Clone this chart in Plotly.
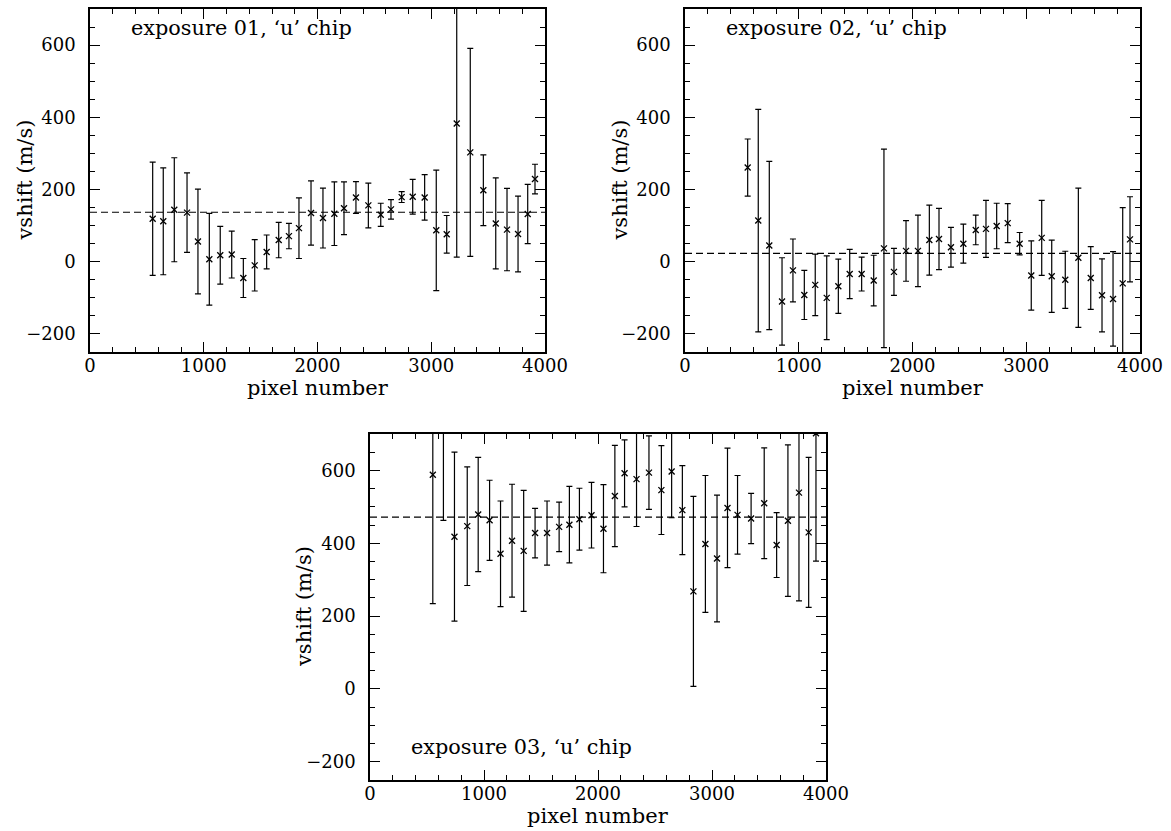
import plotly.graph_objects as go

# pixel positions of the spectral chunks (shared by all exposures)
pixel = [551, 644, 741, 853, 949, 1049, 1145, 1246, 1348, 1448, 1553, 1659, 1749, 1837,
         1943, 2048, 2148, 2233, 2338, 2447, 2556, 2646, 2740, 2837, 2942, 3044, 3136,
         3224, 3343, 3458, 3567, 3666, 3763, 3848, 3912]

# exposure 01
vshift_01 = [119, 112, 144, 136, 56, 7, 18, 20, -45, -10, 27, 60, 71, 93,
             135, 121, 133, 148, 178, 156, 130, 145, 179, 180, 178, 87, 76,
             383, 303, 198, 106, 89, 77, 132, 229]
err_01 = [157, 148, 144, 110, 145, 127, 80, 65, 54, 71, 47, 49, 35, 84,
          89, 83, 88, 73, 44, 62, 32, 27, 15, 48, 63, 167, 52,
          370, 288, 98, 126, 114, 105, 82, 41]
mean_01 = [137]

# exposure 02
vshift_02 = [261, 114, 45, -110, -24, -92, -64, -100, -68, -34, -34, -52, 37, -28,
             30, 30, 60, 63, 40, 50, 88, 91, 99, 107, 50, -38, 66,
             -40, -50, 11, -45, -93, -103, -60, 62]
err_02 = [79, 308, 233, 121, 87, 68, 85, 116, 75, 68, 47, 70, 275, 65,
          84, 99, 97, 85, 55, 54, 41, 79, 63, 54, 31, 96, 104,
          100, 79, 193, 87, 101, 131, 210, 118]
mean_02 = [23]

# exposure 03
vshift_03 = [588, 760, 418, 447, 479, 463, 371, 407, 379, 428, 428, 445, 451, 466,
             477, 440, 530, 592, 576, 594, 546, 597, 491, 268, 398, 358, 497,
             478, 468, 510, 395, 462, 539, 430, 702]
err_03 = [354, 297, 232, 163, 157, 110, 145, 155, 166, 68, 88, 68, 105, 85,
          90, 121, 139, 92, 130, 101, 122, 127, 122, 261, 188, 174, 164,
          108, 69, 152, 89, 208, 297, 206, 351]
mean_03 = [472]

labels = ["exposure 01, \u2018u\u2019 chip", "exposure 02, \u2018u\u2019 chip",
          "exposure 03, \u2018u\u2019 chip"]
x_title = "pixel number"
y_title = "vshift (m/s)"

FONT = "DejaVu Serif"
W, H = 1171, 831

panels = [
    dict(y=vshift_01, e=err_01, m=mean_01, px=(90, 545), py=(9, 352), lab_y=0.945),
    dict(y=vshift_02, e=err_02, m=mean_02, px=(685, 1140), py=(9, 352), lab_y=0.945),
    dict(y=vshift_03, e=err_03, m=mean_03, px=(370, 826), py=(434, 780), lab_y=0.094),
]

fig = go.Figure()
for i, p in enumerate(panels):
    n = "" if i == 0 else str(i + 1)
    xd = [p["px"][0] / W, p["px"][1] / W]
    yd = [1 - p["py"][1] / H, 1 - p["py"][0] / H]
    fig.add_trace(go.Scatter(
        x=pixel, y=p["y"], mode="markers",
        xaxis="x" + n, yaxis="y" + n,
        marker=dict(symbol="x-thin", size=6, color="black",
                    line=dict(width=1.3, color="black")),
        error_y=dict(type="data", array=p["e"], visible=True,
                     color="black", thickness=1.2, width=3),
        showlegend=False, cliponaxis=True,
    ))
    axis_common = dict(showgrid=False, zeroline=False, showline=True, automargin=False,
                       linecolor="black", linewidth=1.5, mirror="allticks",
                       ticks="inside", tickcolor="black", tickwidth=1.2,
                       ticklen=10,
                       tickfont=dict(family=FONT, size=18, color="black"))
    fig.layout["xaxis" + n] = dict(
        axis_common, domain=xd, anchor="y" + n, range=[0, 4000],
        tickvals=[0, 1000, 2000, 3000, 4000], ticklabelstandoff=-3,
        minor=dict(dtick=200, ticks="inside", ticklen=5, tickcolor="black",
                   tickwidth=1.2, showgrid=False),
    )
    fig.layout["yaxis" + n] = dict(
        axis_common, domain=yd, anchor="x" + n, range=[-250, 700],
        tickvals=[-200, 0, 200, 400, 600], ticklabelstandoff=9,
        minor=dict(dtick=50, ticks="inside", ticklen=5, tickcolor="black",
                   tickwidth=1.2, showgrid=False),
    )
    fig.add_shape(type="line", xref=("x" + n) + " domain", yref="y" + n,
                  x0=0, x1=1, y0=p["m"][0], y1=p["m"][0],
                  line=dict(color="black", width=1.2, dash="7px,4px"))
    # panel label
    fig.add_annotation(text=labels[i], xref=("x" + n) + " domain", yref=("y" + n) + " domain",
                       x=0.086, y=p["lab_y"], xanchor="left", yanchor="middle",
                       showarrow=False, font=dict(family=FONT, size=20.8, color="black"))
    # axis titles
    fig.add_annotation(text=x_title, xref="paper", yref="paper",
                       x=(p["px"][0] + p["px"][1]) / 2 / W, y=1 - (p["py"][1] + 36) / H,
                       xanchor="center", yanchor="middle", showarrow=False,
                       font=dict(family=FONT, size=21, color="black"))
    fig.add_annotation(text=y_title, xref="paper", yref="paper", textangle=-90,
                       x=(p["px"][0] - 66) / W, y=1 - (p["py"][0] + p["py"][1]) / 2 / H,
                       xanchor="center", yanchor="middle", showarrow=False,
                       font=dict(family=FONT, size=21, color="black"))

fig.update_layout(width=W, height=H, margin=dict(l=0, r=0, t=0, b=0),
                  paper_bgcolor="white", plot_bgcolor="white")

fig.write_html("out.html")
